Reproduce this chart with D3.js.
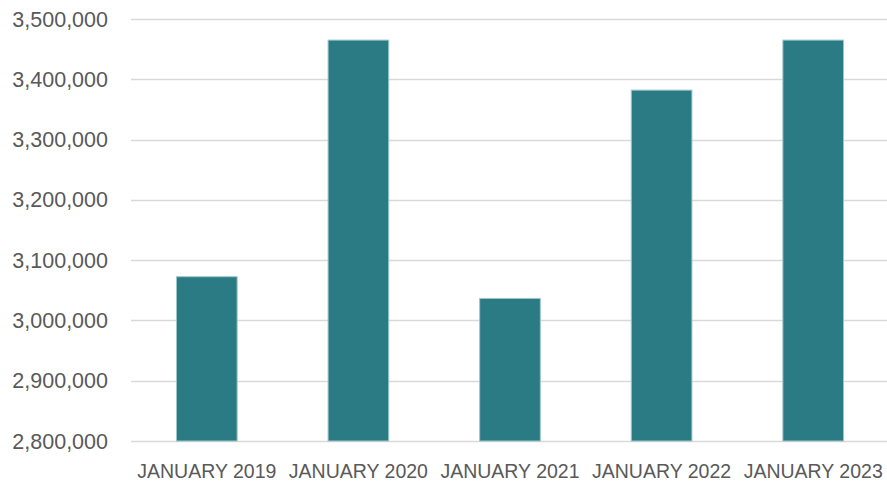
<!DOCTYPE html>
<html>
<head>
<meta charset="utf-8">
<script src="https://cdn.jsdelivr.net/npm/d3@7"></script>
<style>
  html, body { margin: 0; padding: 0; background: #fff; }
  text { font-family: 'Liberation Sans', Arial, sans-serif; fill: #595959; }
</style>
</head>
<body>
<svg id="vis"></svg>
<script>
(function () {

  'use strict';

  // Data
  var months = ['JANUARY 2019', 'JANUARY 2020', 'JANUARY 2021', 'JANUARY 2022', 'JANUARY 2023'];
  var values = [3072500, 3465000, 3036500, 3382000, 3465000];
  var yTicks = [2800000, 2900000, 3000000, 3100000, 3200000, 3300000, 3400000, 3500000];

  // Settings
  var width = 887;
  var height = 483;

  var plot = { left: 131, right: 889, top: 19, bottom: 441 };

  var svg = d3.select('#vis')
      .attr('width', width)
      .attr('height', height);

  var x = d3.scaleBand()
      .domain(months)
      .range([plot.left, plot.right])
      .paddingInner(0.6)
      .paddingOuter(0.3);

  var y = d3.scaleLinear()
      .domain([2800000, 3500000])
      .range([plot.bottom, plot.top]);

  var fmt = d3.format(',');

  // Gridlines
  svg.append('g')
    .selectAll('line')
      .data(yTicks)
      .enter()
    .append('line')
      .attr('x1', plot.left)
      .attr('x2', plot.right)
      .attr('y1', function (d) { return Math.round(y(d)) + 0.5; })
      .attr('y2', function (d) { return Math.round(y(d)) + 0.5; })
      .attr('stroke', '#d9d9d9')
      .attr('stroke-width', 1.5);

  // Y labels
  svg.append('g')
    .selectAll('text')
      .data(yTicks)
      .enter()
    .append('text')
      .attr('x', 108)
      .attr('y', function (d) { return y(d); })
      .attr('dy', '0.35em')
      .attr('text-anchor', 'end')
      .style('font-size', '21.5px')
      .text(fmt);

  // Bars
  svg.append('g')
    .selectAll('rect')
      .data(values)
      .enter()
    .append('rect')
      .attr('x', function (d, i) { return x(months[i]); })
      .attr('width', x.bandwidth())
      .attr('y', function (d) { return y(d); })
      .attr('height', function (d) { return y(2800000) - y(d); })
      .attr('fill', '#2b7b85')
      .attr('stroke', '#9cc6ca')
      .attr('stroke-width', 1);

  // X labels
  svg.append('g')
    .selectAll('text')
      .data(months)
      .enter()
    .append('text')
      .attr('x', function (d) { return x(d) + x.bandwidth() / 2; })
      .attr('y', 478)
      .attr('text-anchor', 'middle')
      .style('font-size', '19.5px')
      .text(function (d) { return d; });
})();
</script>
</body>
</html>
